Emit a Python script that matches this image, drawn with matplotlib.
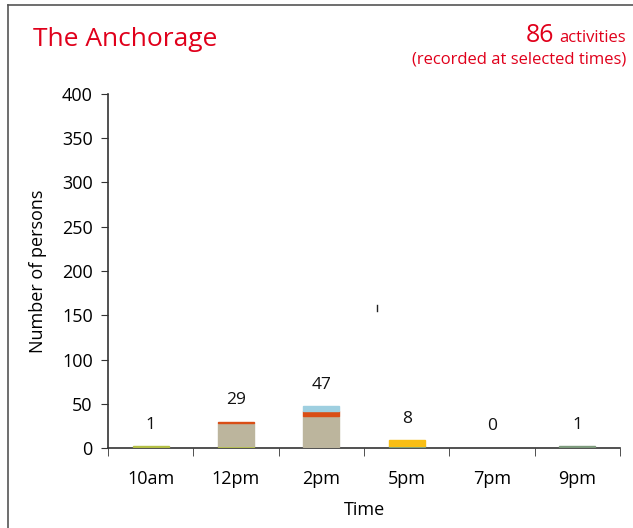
import matplotlib
matplotlib.use("Agg")
import matplotlib.pyplot as plt
import numpy as np
from matplotlib.lines import Line2D

categories = ['10am', '12pm', '2pm', '5pm', '7pm', '9pm']
olive = [1, 1, 0, 0, 0, 0]
teal = [0, 0, 0, 1, 0, 0]
green = [0, 0, 0, 0, 0, 1]
tan = [0, 26, 35, 0, 0, 0]
red = [0, 2, 6, 0, 0, 0]
blue = [0, 0, 6, 0, 0, 0]
yellow = [0, 0, 0, 7, 0, 0]
totals = [1, 29, 47, 8, 0, 1]
yticks = [0, 50, 100, 150, 200, 250, 300, 350, 400]

series = [
    (olive, '#b3bf45'),
    (teal, '#6a9e8c'),
    (green, '#7d9a7c'),
    (tan, '#bcb59d'),
    (red, '#d94e16'),
    (blue, '#9ecfe0'),
    (yellow, '#f8be14'),
]

plt.rcParams['font.family'] = ['Open Sans', 'DejaVu Sans']

fig = plt.figure(figsize=(6.33, 5.28), dpi=100)
ax = fig.add_axes([0.1706, 0.1515, 0.8089, 0.6705])

x = np.arange(len(categories))
bottom = np.zeros(len(categories))
for vals, col in series:
    v = np.array(vals, dtype=float)
    lw = np.where(v > 0, 1.0, 0.0)
    ax.bar(x, v, bottom=bottom + 0.8, width=0.42, color=col, edgecolor=col,
           linewidth=lw, zorder=3)
    bottom += v

for xi, t in zip(x, totals):
    ax.annotate(str(t), (xi, t), xytext=(0, 10), textcoords='offset points',
                ha='center', va='bottom', fontsize=12.5, color='#111111')

ax.set_xlim(-0.5, len(categories) - 0.5)
ax.set_ylim(0, 400)
ax.set_yticks(yticks)
ax.set_yticklabels([str(v) for v in yticks], fontsize=13)
ax.set_xticks(x)
ax.set_xticklabels(categories, fontsize=13)
ax.set_xticks(np.arange(-0.5, len(categories)), minor=True)
ax.tick_params(axis='x', which='major', length=0, pad=16)
ax.tick_params(axis='x', which='minor', length=6, direction='out', color='#333333')
ax.tick_params(axis='y', length=5, direction='out', color='#333333', pad=6)
for s in ['top', 'right']:
    ax.spines[s].set_visible(False)
for s in ['left', 'bottom']:
    ax.spines[s].set_color('#333333')
    ax.spines[s].set_linewidth(1.2)

ax.set_xlabel('Time', fontsize=13, labelpad=9)
ax.set_ylabel('Number of persons', fontsize=13, labelpad=11)

red_txt = '#e0001b'
fig.text(33 / 633, 1 - 39 / 528, 'The Anchorage', color=red_txt, fontsize=19,
         ha='left', va='center')
t1 = fig.text(626 / 633, 1 - 38 / 528, 'activities', color=red_txt, fontsize=12,
              ha='right', va='center')
fig.canvas.draw()
bb = t1.get_window_extent()
fig.text((bb.x0 - 5) / 633, 1 - 36 / 528, '86', color=red_txt, fontsize=18,
         ha='right', va='center')
fig.text(626 / 633, 1 - 59 / 528, '(recorded at selected times)', color=red_txt,
         fontsize=12, ha='right', va='center')

# frame lines (left and top)
fig.add_artist(Line2D([8 / 633, 8 / 633], [0, 1 - 5 / 528], transform=fig.transFigure,
                      color='#555555', linewidth=1.2))
fig.add_artist(Line2D([8 / 633, 1], [1 - 5 / 528, 1 - 5 / 528], transform=fig.transFigure,
                      color='#555555', linewidth=1.2))
# small stray mark
fig.add_artist(Line2D([377 / 633, 377 / 633], [1 - 305 / 528, 1 - 311 / 528],
                      transform=fig.transFigure, color='#222222', linewidth=1))

fig.savefig('out.png', dpi=100)
